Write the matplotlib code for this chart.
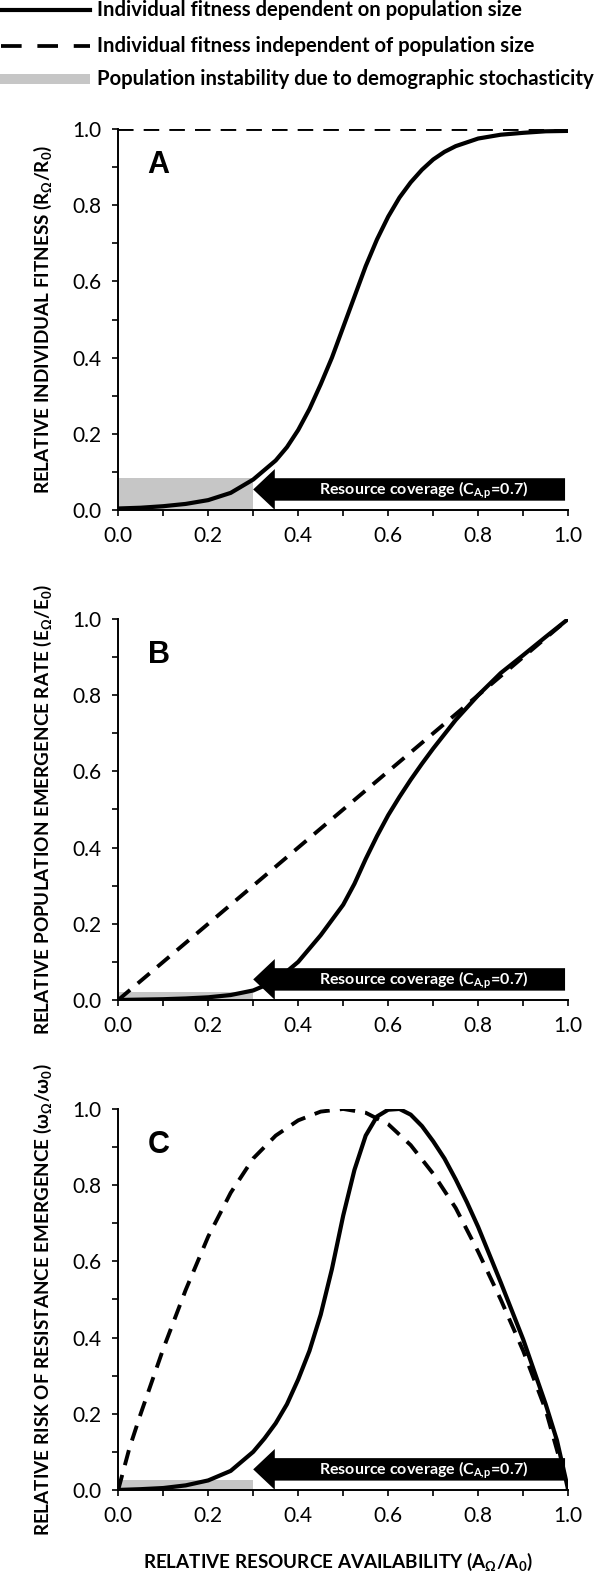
import matplotlib
matplotlib.use("Agg")
import matplotlib.pyplot as plt
from matplotlib.patches import FancyArrow, Rectangle
from matplotlib.lines import Line2D
from matplotlib.ticker import MultipleLocator, FormatStrFormatter

plt.rcParams['font.family'] = ['Lato', 'DejaVu Sans']
plt.rcParams['mathtext.default'] = 'regular'

# ---- data ----
# panel A: relative individual fitness
xa = [0.0, 0.05, 0.1, 0.15, 0.2, 0.25, 0.3, 0.35, 0.375, 0.4, 0.425, 0.45, 0.475,
      0.5, 0.525, 0.55, 0.575, 0.6, 0.625, 0.65, 0.675, 0.7, 0.725, 0.75, 0.8,
      0.85, 0.9, 0.95, 1.0]
ya_dep = [0.004, 0.006, 0.01, 0.016, 0.026, 0.045, 0.08, 0.13, 0.165, 0.21, 0.265,
          0.33, 0.4, 0.48, 0.56, 0.64, 0.71, 0.77, 0.82, 0.86, 0.893, 0.92, 0.94,
          0.955, 0.975, 0.985, 0.99, 0.994, 0.995]
xa_ind = [0.0, 1.0]
ya_ind = [1.0, 1.0]

# panel B: relative population emergence rate
xb = [0.0, 0.05, 0.1, 0.15, 0.2, 0.25, 0.3, 0.35, 0.4, 0.45, 0.5, 0.525, 0.55,
      0.575, 0.6, 0.625, 0.65, 0.675, 0.7, 0.75, 0.8, 0.85, 0.9, 0.95, 1.0]
yb_dep = [0.0, 0.001, 0.002, 0.004, 0.007, 0.013, 0.025, 0.05, 0.1, 0.17, 0.25,
          0.305, 0.37, 0.43, 0.485, 0.533, 0.578, 0.62, 0.66, 0.735, 0.8, 0.858,
          0.905, 0.953, 1.0]
xb_ind = [0.0, 1.0]
yb_ind = [0.0, 1.0]

# panel C: relative risk of resistance emergence
xc = [0.0, 0.05, 0.1, 0.15, 0.2, 0.25, 0.3, 0.325, 0.35, 0.375, 0.4, 0.425, 0.45,
      0.475, 0.5, 0.525, 0.55, 0.575, 0.6, 0.625, 0.65, 0.675, 0.7, 0.725, 0.75,
      0.775, 0.8, 0.85, 0.9, 0.95, 0.975, 1.0]
yc_dep = [0.0, 0.002, 0.005, 0.012, 0.025, 0.05, 0.1, 0.135, 0.175, 0.225, 0.29,
          0.365, 0.46, 0.58, 0.72, 0.84, 0.93, 0.98, 0.998, 1.0, 0.985, 0.955,
          0.915, 0.87, 0.815, 0.755, 0.69, 0.545, 0.395, 0.225, 0.13, 0.0]
xc_ind = [0.0, 0.025, 0.05, 0.075, 0.1, 0.15, 0.2, 0.25, 0.3, 0.35, 0.4, 0.45,
          0.5, 0.55, 0.6, 0.65, 0.7, 0.75, 0.8, 0.85, 0.9, 0.95, 1.0]
yc_ind = [0.0, 0.11, 0.2, 0.285, 0.37, 0.525, 0.665, 0.78, 0.87, 0.93, 0.97,
          0.993, 1.0, 0.99, 0.96, 0.905, 0.83, 0.74, 0.625, 0.5, 0.365, 0.21, 0.0]

unstable_x = 0.3
unstable_top = [0.085, 0.02, 0.026]
coverage = 0.7

panel_letters = ['A', 'B', 'C']
ylabels = [r'RELATIVE INDIVIDUAL FITNESS (R$_{Ω}$/R$_{0}$)',
           r'RELATIVE POPULATION EMERGENCE RATE (E$_{Ω}$/E$_{0}$)',
           r'RELATIVE RISK OF RESISTANCE EMERGENCE (ω$_{Ω}$/ω$_{0}$)']
xlabel = r'RELATIVE RESOURCE AVAILABILITY (A$_{Ω}$/A$_{0}$)'
legend_labels = ['Individual fitness dependent on population size',
                 'Individual fitness independent of population size',
                 'Population instability due to demographic stochasticity']

series = [(xa, ya_dep, xa_ind, ya_ind),
          (xb, yb_dep, xb_ind, yb_ind),
          (xc, yc_dep, xc_ind, yc_ind)]

fig = plt.figure(figsize=(6, 15.79), dpi=100)
bottoms = [0.677, 0.3667, 0.0564]
gray = '#c6c6c6'

for i, (x1, y1, x2, y2) in enumerate(series):
    ax = fig.add_axes([0.197, bottoms[i], 0.75, 0.2413])
    ax.add_patch(Rectangle((0, 0), unstable_x, unstable_top[i], color=gray, lw=0, zorder=1))
    ax.plot(x2, y2, color='black', lw=2.8, ls=(0, (4, 2.6)), zorder=2)
    ax.plot(x1, y1, color='black', lw=3.0, zorder=3, solid_capstyle='butt',
            solid_joinstyle='round')
    # resource coverage arrow
    x_end = 0.993
    ax.add_patch(FancyArrow(x_end, 0.054, -(x_end - (1 - coverage)), 0, width=0.059,
                            head_width=0.107, head_length=0.048,
                            length_includes_head=True, color='black', lw=0, zorder=4))
    ax.text(0.679, 0.052, r'Resource coverage (C$_{A,\!p}$=0.7)', color='white',
            fontsize=11.5, fontweight='bold', ha='center', va='center', zorder=5)
    ax.text(0.09, 0.905, panel_letters[i], fontsize=22, fontweight='bold',
            family='Liberation Sans', ha='center', va='center')
    ax.set_xlim(0, 1)
    ax.set_ylim(0, 1)
    ax.spines['top'].set_visible(False)
    ax.spines['right'].set_visible(False)
    ax.spines['left'].set_linewidth(1.4)
    ax.spines['bottom'].set_linewidth(1.4)
    for axis in (ax.xaxis, ax.yaxis):
        axis.set_major_locator(MultipleLocator(0.2))
        axis.set_minor_locator(MultipleLocator(0.1))
        axis.set_major_formatter(FormatStrFormatter('%.1f'))
    ax.tick_params(which='both', direction='out', length=4.5, width=1.2, labelsize=15)
    ax.tick_params(axis='x', pad=7)
    ax.tick_params(axis='y', pad=7.5)
    ax.set_ylabel(ylabels[i], fontsize=13.6, fontweight='bold')
    ax.yaxis.set_label_coords(-0.142, 0.5)

fig.text(143 / 600, 1 - 1562 / 1579, xlabel, fontsize=13.6, fontweight='bold',
         ha='left', va='center')

# legend at top
rows = [10, 46, 79]
fig.add_artist(Line2D([1 / 600, 90 / 600], [1 - rows[0] / 1579] * 2, color='black',
                      lw=3, transform=fig.transFigure))
fig.add_artist(Line2D([1 / 600, 90 / 600], [1 - rows[1] / 1579] * 2, color='black',
                      lw=2.7, ls=(0, (5.5, 4.2)), transform=fig.transFigure))
fig.add_artist(Rectangle((0, 1 - (rows[2] + 5) / 1579), 90 / 600, 10 / 1579,
                         color=gray, lw=0, transform=fig.transFigure))
for r, lab in zip(rows, legend_labels):
    fig.text(97 / 600, 1 - r / 1579, lab, fontsize=14.6, fontweight='bold',
             ha='left', va='center')

fig.savefig('out.png', dpi=100)
